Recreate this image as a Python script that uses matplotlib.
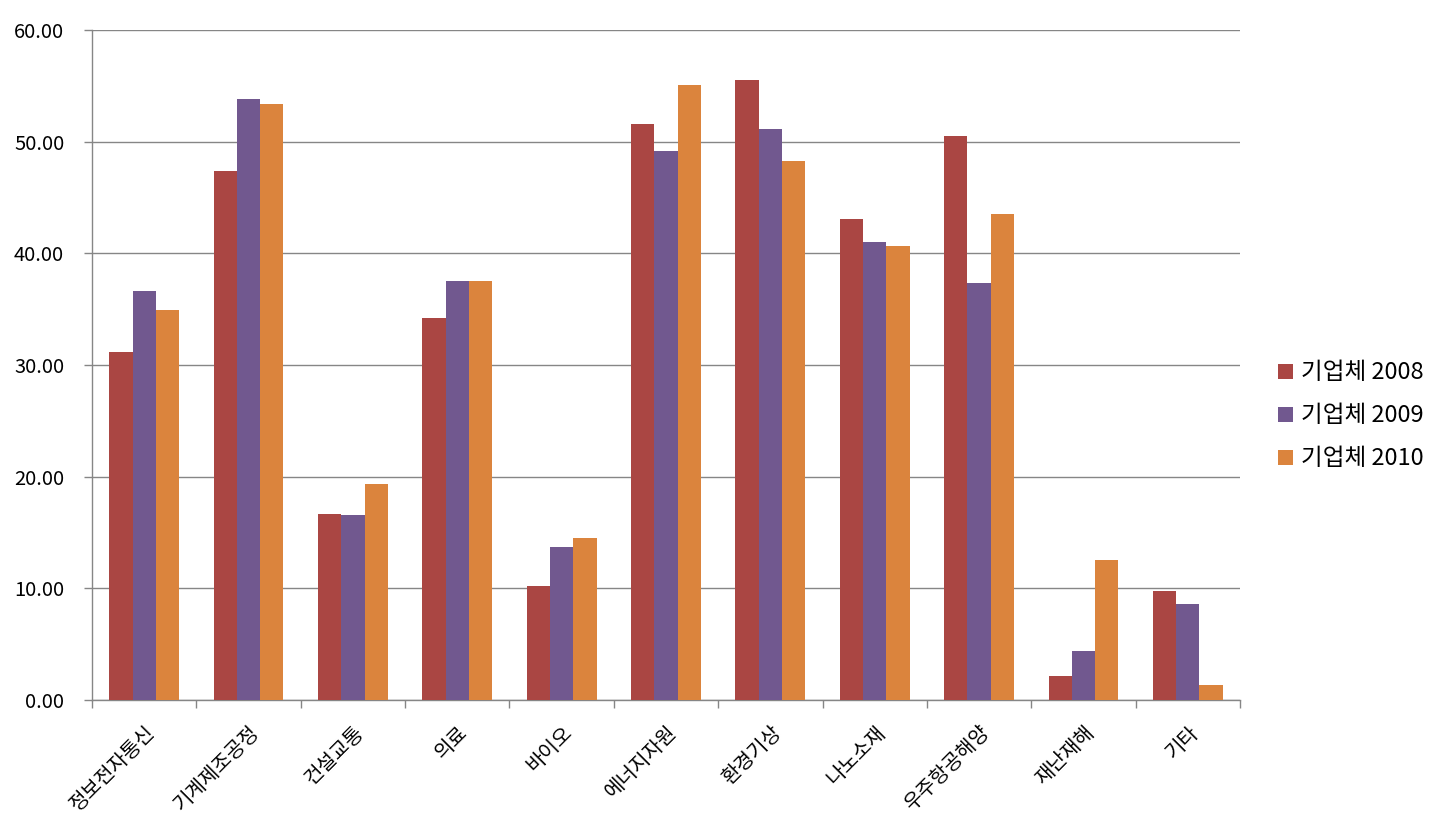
import matplotlib
matplotlib.use("Agg")
import matplotlib.pyplot as plt
import numpy as np

plt.rcParams['font.family'] = ['Noto Sans CJK KR', 'DejaVu Sans']

categories = ['정보전자통신', '기계제조공정', '건설교통', '의료', '바이오', '에너지자원',
              '환경기상', '나노소재', '우주항공해양', '재난재해', '기타']
series_names = ['기업체 2008', '기업체 2009', '기업체 2010']
v2008 = [31.2, 47.4, 16.7, 34.2, 10.2, 51.6, 55.5, 43.1, 50.5, 2.15, 9.75]
v2009 = [36.6, 53.8, 16.6, 37.5, 13.7, 49.2, 51.1, 41.0, 37.3, 4.4, 8.6]
v2010 = [34.9, 53.4, 19.3, 37.5, 14.5, 55.1, 48.3, 40.7, 43.5, 12.5, 1.35]
colors = ['#AA4643', '#71588F', '#DB843D']
yticks = [0, 10, 20, 30, 40, 50, 60]

fig = plt.figure(figsize=(14.43, 8.31), dpi=100)
ax = fig.add_axes([92/1443, 1 - 700/831, (1240-92)/1443, (700-30)/831])

x = np.arange(len(categories))
w = 0.223
for i, (vals, name, c) in enumerate(zip([v2008, v2009, v2010], series_names, colors)):
    ax.bar(x + (i - 1) * w, vals, width=w, color=c, label=name, zorder=3)

ax.set_xlim(-0.5, len(categories) - 0.5)
ax.set_ylim(0, 60)
ax.set_yticks(yticks)
ax.set_yticklabels([f'{t:.2f}' for t in yticks], fontsize=14.5)
ax.yaxis.grid(True, color='#868686', linewidth=1.0, zorder=0)

# category labels at centers, ticks at boundaries
ax.set_xticks(x)
ax.set_xticklabels(categories, rotation=45, ha='right', rotation_mode='anchor', fontsize=14.5)
ax.tick_params(axis='x', length=0, pad=16)
ax.set_xticks(np.arange(len(categories) + 1) - 0.5, minor=True)
ax.tick_params(axis='x', which='minor', length=6, color='#868686', width=1)
ax.tick_params(axis='y', length=6, color='#868686', width=1, pad=14)

for s in ['top', 'right']:
    ax.spines[s].set_visible(False)
for s in ['left', 'bottom']:
    ax.spines[s].set_color('#868686')
    ax.spines[s].set_linewidth(1)

leg = ax.legend(loc='center left', bbox_to_anchor=(1.015, 0.424), frameon=False,
                fontsize=17, handlelength=0.6, handleheight=0.6, handletextpad=0.35,
                labelspacing=0.85)

fig.savefig('out.png', dpi=100)
